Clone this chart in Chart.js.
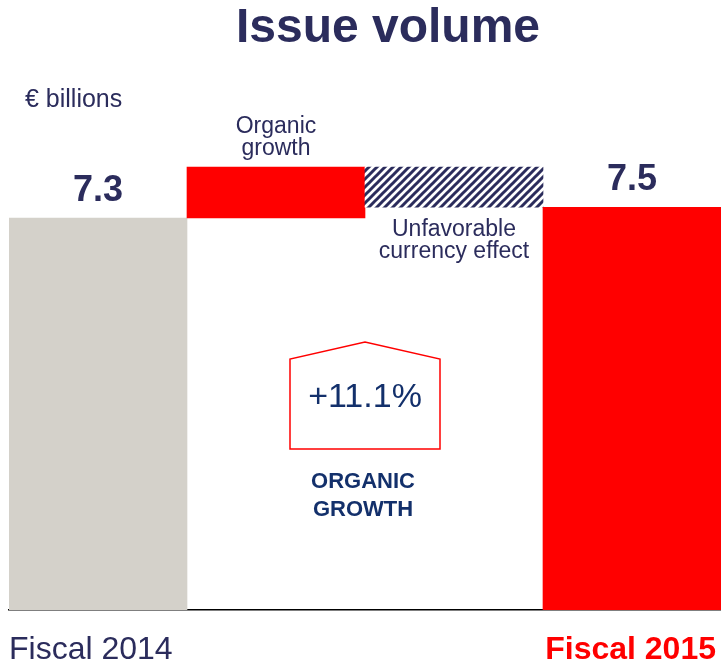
<!DOCTYPE html>
<html>
<head>
<meta charset="utf-8">
<script src="https://cdn.jsdelivr.net/npm/chart.js@4"></script>
<style>
  html, body { margin: 0; padding: 0; background: #fff; }
</style>
</head>
<body>
<canvas id="myChart" width="721" height="665"></canvas>
<script>
// -------------------------data----------------------
const categories = ["Fiscal 2014", "Organic growth", "Unfavorable currency effect", "Fiscal 2015"];
const tickLabels = ["Fiscal 2014", "", "", "Fiscal 2015"];
const barLows  = [0, 7.3, 7.5, 0];
const barHighs = [7.3, 8.25, 8.25, 7.5];
const valueLabels = ["7.3", "", "", "7.5"];
const organicGrowth = "+11.1%";

const navy = "#2b2c5c";
const darkBlue = "#13306b";
const red = "#ff0000";
const grey = "#d4d1ca";
const font = "'Liberation Sans', Arial, sans-serif";

// hatch pattern for the currency effect bar
function makeHatch() {
  const c = document.createElement('canvas');
  c.width = 8; c.height = 8;
  const g = c.getContext('2d');
  g.fillStyle = '#fff';
  g.fillRect(0, 0, 8, 8);
  g.strokeStyle = navy;
  g.lineWidth = 3;
  g.beginPath();
  g.moveTo(-2, 10); g.lineTo(10, -2);
  g.moveTo(-2, 2); g.lineTo(2, -2);
  g.moveTo(6, 10); g.lineTo(10, 6);
  g.stroke();
  return g.createPattern(c, 'repeat');
}
const hatch = makeHatch();
const barColors = [grey, red, hatch, red];

const annotations = {
  id: 'annotations',
  afterDatasetsDraw(chart) {
    const ctx = chart.ctx;
    const x = chart.scales.x, y = chart.scales.y;
    const half = (x.getPixelForValue(1) - x.getPixelForValue(0)) / 2;
    ctx.save();
    ctx.textAlign = 'center';
    ctx.textBaseline = 'middle';

    // title
    ctx.fillStyle = navy;
    ctx.font = "bold 48px " + font;
    ctx.fillText("Issue volume", 388, 29);

    // unit
    ctx.textAlign = 'left';
    ctx.font = "25px " + font;
    ctx.fillText("€ billions", 25, 100);

    // value labels on totals
    ctx.textAlign = 'center';
    ctx.font = "bold 36px " + font;
    valueLabels.forEach((t, i) => {
      if (!t) return;
      ctx.fillText(t, x.getPixelForValue(i), y.getPixelForValue(barHighs[i]) - 27);
    });

    // category labels under the axis
    ctx.font = "32px " + font;
    ctx.textAlign = 'left';
    ctx.fillStyle = navy;
    ctx.fillText(tickLabels[0], x.getPixelForValue(0) - half, 650);
    ctx.textAlign = 'right';
    ctx.fillStyle = red;
    ctx.font = "bold 32px " + font;
    ctx.fillText(tickLabels[3], x.getPixelForValue(3) + half - 5, 650);

    // step labels
    ctx.textAlign = 'center';
    ctx.fillStyle = navy;
    ctx.font = "23px " + font;
    const x1 = x.getPixelForValue(1), x2 = x.getPixelForValue(2);
    ctx.fillText("Organic", x1, 127);
    ctx.fillText("growth", x1, 149);
    ctx.fillText("Unfavorable", x2, 230);
    ctx.fillText("currency effect", x2, 252);

    // pentagon box
    const cx = (x1 + x2) / 2;
    ctx.strokeStyle = red;
    ctx.lineWidth = 1.5;
    ctx.beginPath();
    ctx.moveTo(cx - 75, 449);
    ctx.lineTo(cx - 75, 359);
    ctx.lineTo(cx, 342);
    ctx.lineTo(cx + 75, 359);
    ctx.lineTo(cx + 75, 449);
    ctx.closePath();
    ctx.stroke();

    ctx.fillStyle = darkBlue;
    ctx.font = "34px " + font;
    ctx.fillText(organicGrowth, cx, 398);
    ctx.font = "bold 22px " + font;
    ctx.fillText("ORGANIC", cx - 2, 482);
    ctx.fillText("GROWTH", cx - 2, 510);
    ctx.restore();
  }
};

new Chart("myChart", {
  type: "bar",
  data: {
    labels: tickLabels,
    datasets: [{
      data: barLows.map((lo, i) => [lo, barHighs[i]]),
      backgroundColor: barColors,
      borderWidth: 0,
      barPercentage: 1,
      categoryPercentage: 1
    }]
  },
  options: {
    responsive: false,
    animation: false,
    devicePixelRatio: 1,
    layout: { padding: { top: 73, left: 9, right: 0, bottom: 0 } },
    plugins: {
      legend: { display: false },
      tooltip: { enabled: false }
    },
    scales: {
      x: {
        grid: { display: false, drawTicks: false },
        border: { display: true, color: "#000", width: 1.5 },
        ticks: { display: false },
        afterFit: (s) => { s.height = 55; s.paddingLeft = 0; s.paddingRight = 0; }
      },
      y: {
        display: false,
        min: 0,
        max: 10
      }
    }
  },
  plugins: [annotations]
});
</script>
</body>
</html>
